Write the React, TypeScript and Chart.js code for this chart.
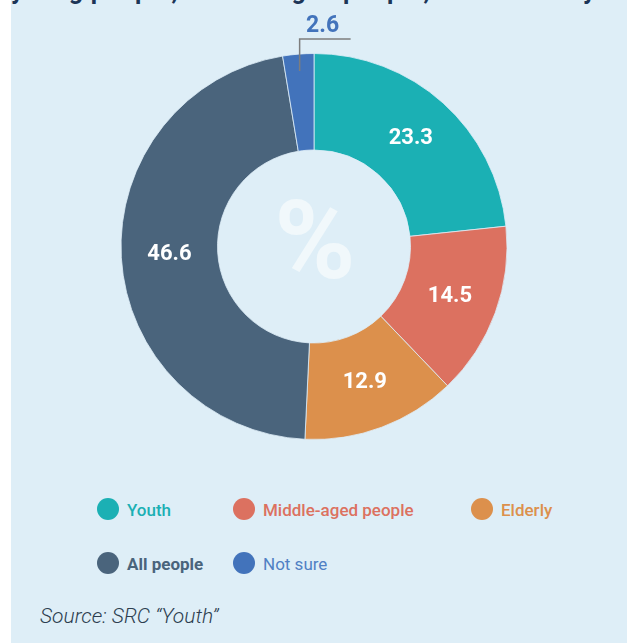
import { useEffect, useRef } from "react";
import { Chart, registerables } from "chart.js";

Chart.register(...registerables);

const categories = ["Youth", "Middle-aged people", "Elderly", "All people", "Not sure"];
const values = [23.3, 14.5, 12.9, 46.6, 2.6];
const valueLabels = ["23.3", "14.5", "12.9", "46.6", "2.6"];
const sliceColors = ["#1bb0b4", "#dc7160", "#dc904c", "#4a647c", "#4273bb"];
const legendTextColors = ["#1bb0b4", "#dc7160", "#dc904c", "#4a647c", "#5080c4"];
const legendWeights = [500, 500, 500, 700, 400];
const titleText = "young people, middle-aged people, or the elderly";
const sourceText = "Source: SRC \u201CYouth\u201D";

const BG = "#deeef7";
const FONT = "Roboto, 'Noto Sans', sans-serif";

const labelPlugin = {
  id: "sliceLabels",
  afterDatasetsDraw(chart: any) {
    const ctx = chart.ctx;
    const meta = chart.getDatasetMeta(0);
    ctx.save();
    meta.data.forEach((arc: any, i: number) => {
      const p = arc.getProps(["x", "y", "startAngle", "endAngle", "innerRadius", "outerRadius"], true);
      const mid = (p.startAngle + p.endAngle) / 2;
      if (values[i] < 5) {
        const r0 = p.outerRadius - 17;
        const x0 = p.x + Math.cos(mid) * r0;
        const y0 = p.y + Math.sin(mid) * r0;
        const yTop = p.y - p.outerRadius - 14.5;
        ctx.strokeStyle = "#7d7d7d";
        ctx.lineWidth = 1.5;
        ctx.beginPath();
        ctx.moveTo(x0, y0);
        ctx.lineTo(x0, yTop);
        ctx.lineTo(x0 + 51, yTop);
        ctx.stroke();
        ctx.fillStyle = sliceColors[i];
        ctx.font = `bold 23px ${FONT}`;
        ctx.textAlign = "center";
        ctx.textBaseline = "alphabetic";
        ctx.fillText(valueLabels[i], x0 + 23, yTop - 7);
      } else {
        const r = (p.innerRadius + p.outerRadius) / 2;
        const x = p.x + Math.cos(mid) * r;
        const y = p.y + Math.sin(mid) * r;
        ctx.fillStyle = "#ffffff";
        ctx.font = `bold 22px ${FONT}`;
        ctx.textAlign = "center";
        ctx.textBaseline = "middle";
        ctx.fillText(valueLabels[i], x, y);
      }
    });
    const c = meta.data[0];
    ctx.fillStyle = "#f1f8fb";
    ctx.font = `bold 110px ${FONT}`;
    ctx.textAlign = "center";
    ctx.textBaseline = "alphabetic";
    ctx.fillText("%", c.x + 1, c.y + 31);
    ctx.restore();
  },
};

const legendPos = [
  { left: 97, top: 509 },
  { left: 233, top: 509 },
  { left: 471, top: 509 },
  { left: 97, top: 563 },
  { left: 233, top: 563 },
];

export default function App() {
  const ref = useRef<HTMLCanvasElement>(null);
  useEffect(() => {
    if (!ref.current) return;
    const chart = new Chart(ref.current, {
      type: "doughnut",
      data: {
        labels: categories,
        datasets: [
          {
            data: values,
            backgroundColor: sliceColors,
            borderColor: BG,
            borderWidth: 0.8,
          },
        ],
      },
      options: {
        responsive: false,
        animation: false,
        radius: 193,
        cutout: "50%",
        layout: { padding: { left: 1 } },
        plugins: {
          legend: { display: false },
          tooltip: { enabled: false },
        },
      } as any,
      plugins: [labelPlugin],
    });
    return () => chart.destroy();
  }, []);

  return (
    <div
      style={{
        position: "fixed",
        left: 0,
        top: 0,
        width: 627,
        height: 643,
        background: "#ffffff",
        overflow: "hidden",
        fontFamily: FONT,
      }}
    >
      <div
        style={{
          position: "absolute",
          left: 11,
          top: 0,
          width: 616,
          height: 643,
          background: BG,
          overflow: "hidden",
        }}
      >
        <div
          style={{
            position: "absolute",
            left: 0,
            top: -22,
            whiteSpace: "nowrap",
            fontSize: 25,
            lineHeight: "25px",
            fontWeight: 700,
            color: "#1c3557",
            letterSpacing: 0.8,
          }}
        >
          {titleText}
        </div>
      </div>
      <canvas
        ref={ref}
        width={627}
        height={493}
        style={{ position: "absolute", left: 0, top: 0, width: 627, height: 493 }}
      />
      {categories.map((c, i) => (
        <div
          key={c}
          style={{
            position: "absolute",
            left: legendPos[i].left,
            top: legendPos[i].top - 11,
            height: 22,
            display: "flex",
            alignItems: "center",
            whiteSpace: "nowrap",
          }}
        >
          <span
            style={{
              width: 22,
              height: 22,
              borderRadius: "50%",
              background: sliceColors[i],
              display: "inline-block",
              marginRight: 8,
            }}
          />
          <span
            style={{
              fontSize: 17,
              fontWeight: legendWeights[i],
              color: legendTextColors[i],
              lineHeight: "22px",
              marginTop: 2,
            }}
          >
            {c}
          </span>
        </div>
      ))}
      <div
        style={{
          position: "absolute",
          left: 40,
          top: 603,
          fontSize: 21,
          lineHeight: "26px",
          fontStyle: "italic",
          fontWeight: 300,
          color: "#2d3e50",
          whiteSpace: "nowrap",
        }}
      >
        {sourceText}
      </div>
    </div>
  );
}
